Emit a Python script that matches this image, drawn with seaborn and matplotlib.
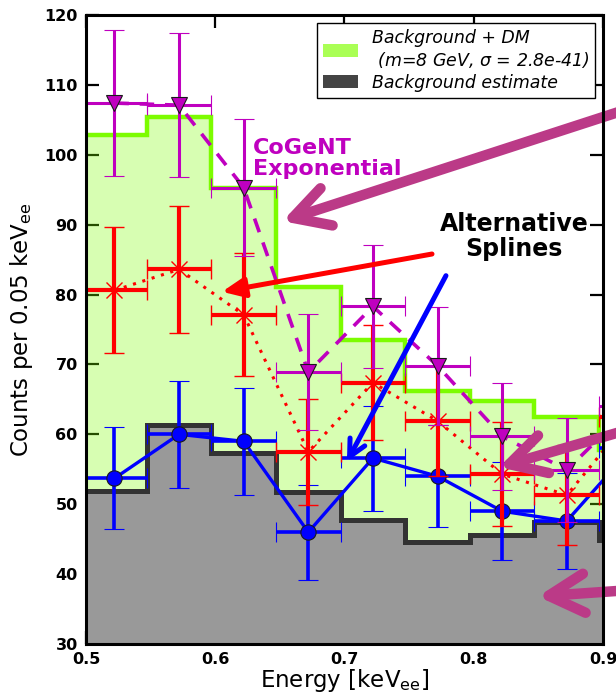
import numpy as np
import matplotlib
matplotlib.use("Agg")
import matplotlib.pyplot as plt
import seaborn as sns
from matplotlib.patches import Patch

# Energy bins (keV_ee) and bin-centre energies
bin_edges = [0.497, 0.547, 0.597, 0.647, 0.697, 0.747, 0.797, 0.847, 0.897, 0.947]
energy = [0.522, 0.572, 0.622, 0.672, 0.722, 0.772, 0.822, 0.872, 0.922]

# Model expectations per bin
bg_plus_dm = [102.8, 105.4, 95.3, 81.1, 73.5, 66.2, 64.8, 62.5, 57.8]
bg_estimate = [51.9, 61.3, 57.4, 51.8, 47.8, 44.6, 45.6, 47.4, 44.9]

# Counts for each surface-event correction
cogent_exp = [107.4, 107.1, 95.3, 68.9, 78.3, 69.8, 59.7, 54.9, 64.0]
cogent_exp_err = [10.4, 10.3, 9.8, 8.3, 8.8, 8.4, 7.7, 7.4, 8.0]
spline_a = [80.6, 83.6, 77.1, 57.5, 67.4, 61.9, 54.3, 51.3, 62.5]
spline_a_err = [9.0, 9.1, 8.8, 7.6, 8.2, 7.9, 7.4, 7.2, 7.9]
spline_b = [53.7, 60.0, 59.0, 46.0, 56.6, 54.0, 49.0, 47.6, 58.0]
spline_b_err = [7.3, 7.7, 7.7, 6.8, 7.5, 7.3, 7.0, 6.9, 7.6]
half_bin = 0.025

y_ticks = [30, 40, 50, 60, 70, 80, 90, 100, 110, 120]
x_ticks = [0.5, 0.6, 0.7, 0.8, 0.9]

BLUE, RED, MAGENTA = "#0000ff", "#ff0000", "#bf00bf"

sns.set_theme(style="ticks")
plt.rcParams["font.family"] = ["DejaVu Sans"]
plt.rcParams["mathtext.fontset"] = "dejavusans"
plt.rcParams["text.color"] = "black"
plt.rcParams["axes.labelcolor"] = "black"

fig = plt.figure(figsize=(6.16, 6.98), dpi=100)
fig.patch.set_facecolor("white")
ax = fig.add_axes([86 / 616, 54 / 698, 517 / 616, 629 / 698])
ax.set_facecolor("white")

# Expected spectra as filled step histograms
ax.stairs(bg_plus_dm, bin_edges, fill=True, baseline=0, color="lawngreen",
          alpha=0.3, lw=0, zorder=1)
ax.stairs(bg_estimate, bin_edges, fill=True, baseline=0, color="#999999",
          lw=0, zorder=1.5)
ax.stairs(bg_plus_dm, bin_edges, baseline=None, color="lawngreen", lw=3.2,
          zorder=2)
ax.stairs(bg_estimate, bin_edges, baseline=None, color="#333333", lw=3.6,
          zorder=2.2)

# Connecting lines
sns.lineplot(x=energy, y=spline_b, ax=ax, color=BLUE, lw=2.4, zorder=3)
sns.lineplot(x=energy, y=spline_a, ax=ax, color=RED, lw=2.2,
             linestyle=(0, (1, 2.2)), zorder=3)
sns.lineplot(x=energy, y=cogent_exp, ax=ax, color=MAGENTA, lw=2.6,
             linestyle=(0, (4, 3)), zorder=3)

# Data points with error bars
ax.errorbar(energy, spline_b, yerr=spline_b_err, xerr=half_bin, fmt="o",
            color=BLUE, ms=11, mec="k", mew=0.8, elinewidth=2.6, capsize=7,
            zorder=4)
ax.errorbar(energy, spline_a, yerr=spline_a_err, xerr=half_bin, fmt="x",
            color=RED, ms=12, mew=1.0, elinewidth=3.0, capsize=7, zorder=5)
ax.errorbar(energy, cogent_exp, yerr=cogent_exp_err, xerr=half_bin, fmt="v",
            color=MAGENTA, ms=12, mec="k", mew=0.8, elinewidth=2.2, capsize=7,
            zorder=6)

ax.set_xlim(0.5, 0.9)
ax.set_ylim(30, 120)
ax.set_xticks(x_ticks)
ax.set_yticks(y_ticks)
ax.set_xticklabels([f"{t:.1f}" for t in x_ticks])
ax.set_yticklabels([str(t) for t in y_ticks])
ax.tick_params(direction="in", length=9.5, width=1.6, top=True, right=True,
               labelsize=11.5, pad=6, colors="black")
for lab in ax.get_xticklabels() + ax.get_yticklabels():
    lab.set_fontweight("bold")
for sp in ax.spines.values():
    sp.set_visible(True)
    sp.set_color("black")
    sp.set_linewidth(2.2)
    sp.set_zorder(10)

ax.set_xlabel("Energy [keV$_{\\rm ee}$]", fontsize=16.5, labelpad=0,
              color="black")
ax.set_ylabel("Counts per 0.05 keV$_{\\rm ee}$", fontsize=16.5, labelpad=7,
              color="black")

# Legend
handles = [Patch(facecolor="#aaff55", edgecolor="none"),
           Patch(facecolor="#444444", edgecolor="none")]
labels = ["Background + DM\n (m=8 GeV, $\\sigma$ = 2.8e-41)",
          "Background estimate"]
leg = ax.legend(handles, labels, loc="upper right", fancybox=False,
                framealpha=1, edgecolor="black", borderaxespad=0.45,
                prop={"style": "italic", "size": 12.5}, handlelength=2.0,
                handleheight=0.75, handletextpad=0.8, labelspacing=0.2,
                borderpad=0.35, labelcolor="black")
leg.get_frame().set_linewidth(1.0)
leg.set_zorder(12)

# Annotations
ax.text(0.629, 102.4, "CoGeNT\nExponential", color=MAGENTA, fontsize=16,
        fontweight="bold", ha="left", va="top", linespacing=1.05, zorder=7)
ax.text(0.831, 91.8, "Alternative\nSplines", color="black", fontsize=17,
        fontweight="bold", ha="center", va="top", linespacing=1.05, zorder=7)

arrow_col = "#bb3a87"
big = dict(arrowstyle="->, head_length=0.4, head_width=0.22", color=arrow_col,
           lw=7.5, mutation_scale=64, capstyle="round", joinstyle="round",
           shrinkA=0, shrinkB=0)
small_open = dict(arrowstyle="->, head_length=0.4, head_width=0.2", lw=3.6,
                  mutation_scale=30, capstyle="round", shrinkA=0, shrinkB=0)
small_fill = dict(arrowstyle="-|>, head_length=0.45, head_width=0.2", lw=3.6,
                  mutation_scale=30, capstyle="round", shrinkA=0, shrinkB=0)

ax.annotate("", xy=(0.652, 90.5), xytext=(0.935, 107.5),
            arrowprops=big, annotation_clip=False, zorder=8)
ax.annotate("", xy=(0.8195, 55.3), xytext=(0.935, 61.5),
            arrowprops=big, annotation_clip=False, zorder=8)
ax.annotate("", xy=(0.8497, 36.8), xytext=(0.935, 37.9),
            arrowprops=big, annotation_clip=False, zorder=8)
ax.annotate("", xy=(0.6052, 80.4), xytext=(0.7677, 85.8),
            arrowprops=dict(small_fill, color=RED), annotation_clip=False,
            zorder=8)
ax.annotate("", xy=(0.7019, 56.1), xytext=(0.7785, 82.7),
            arrowprops=dict(small_open, color=BLUE), annotation_clip=False,
            zorder=8)

fig.savefig("out.png", dpi=100)
